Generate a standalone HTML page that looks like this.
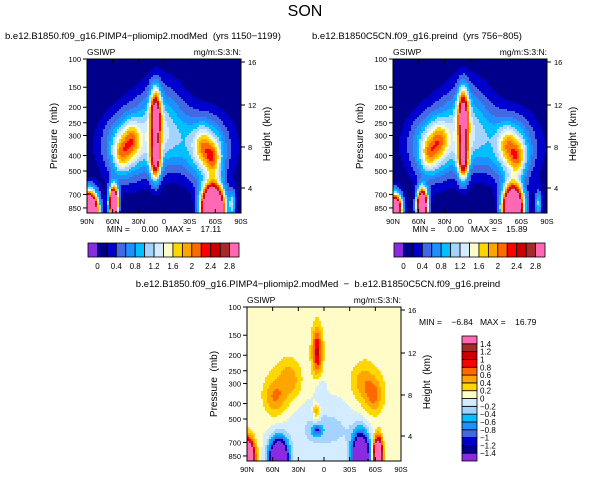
<!DOCTYPE html>
<html><head><meta charset="utf-8"><style>
body{margin:0;background:#fff;width:611px;height:481px;overflow:hidden}
svg{display:block;font-family:"Liberation Sans",sans-serif}
text{white-space:pre}
</style></head><body>
<svg id="s" width="611" height="481">
<text x="305" y="16" font-size="16" text-anchor="middle">SON</text>
</svg>
<script>
const pal=['#8a2be2','#00008b','#0000cd','#4169e1','#1e90ff','#00bfff','#a4d3ff','#d4ecff','#fffcc8','#ffd700','#ffa500','#ff6a00','#ff0000','#cd0000','#a52a2a','#ff69b4'];
const levelsAbs=[0,0.2,0.4,0.6,0.8,1.0,1.2,1.4,1.6,1.8,2.0,2.2,2.4,2.6,2.8];
const levelsDiff=[-1.4,-1.2,-1.0,-0.8,-0.6,-0.4,-0.2,0,0.2,0.4,0.6,0.8,1.0,1.2,1.4];
const latTicks=['90N','60N','30N','0','30S','60S','90S'];
const pTicks=[100,150,200,250,300,400,500,700,850];
const zTicks=[4,8,12,16];
// blobs: [lat, pressure, latSigma, lnpSigma, amplitude]
const blobsLeft=[[10,220,6,0.35,2.5],[10,420,6,0.3,2.5],[5,250,30,0.6,0.9],[0,330,70,0.45,0.45],[50,390,9,0.25,0.9],[38,320,9,0.25,0.8],[45,360,25,0.5,0.9],[-57,420,9,0.25,1.1],[-45,350,9,0.25,0.7],[-50,380,25,0.5,1.0],[88,880,10,0.25,6],[59,790,5,0.22,5],[-57,860,12,0.3,7],[-80,800,4,0.2,1.0]];
const blobsRight=[[8,220,6,0.35,2.5],[8,420,6,0.3,2.4],[5,250,30,0.6,0.9],[0,330,70,0.45,0.45],[48,390,9,0.25,0.85],[36,320,9,0.25,0.75],[45,360,25,0.5,0.9],[-55,410,9,0.25,1.0],[-43,340,9,0.25,0.7],[-50,380,25,0.5,1.0],[88,880,8,0.22,5],[56,820,6,0.22,5],[-50,860,11,0.3,6],[-80,800,4,0.2,1.0]];
const blobsDiff=[[0,400,500,50,0.06],[8,190,6,0.35,1.0],[9,450,4,0.12,0.6],[58,370,12,0.25,0.45],[40,280,12,0.25,0.35],[48,320,22,0.45,0.2],[-58,360,10,0.25,0.45],[-45,290,12,0.25,0.3],[-52,330,22,0.45,0.2],[0,580,50,0.4,-0.33],[5,320,6,0.2,-0.25],[8,590,6,0.08,-0.8],[90,880,8,0.25,3.5],[53,880,10,0.25,-3.5],[-43,860,9,0.3,-3.5],[-63,860,5,0.25,3.2]];
const svg=document.getElementById('s');const NS='http://www.w3.org/2000/svg';
function el(t,a,p){const e=document.createElementNS(NS,t);for(const k in a)e.setAttribute(k,a[k]);(p||svg).appendChild(e);return e;}
function txt(x,y,s,fs,anc,p){const e=el('text',{x:x,y:y,'font-size':fs,'text-anchor':anc||'start'},p);e.textContent=s;return e;}
const PB=914;
function field(b,lat,p){let v=0;const lp=Math.log(p);for(const q of b){const dl=(lat-q[0])/q[2],dp=(lp-Math.log(q[1]))/q[3];v+=q[4]*Math.exp(-dl*dl-dp*dp);}return v;}
function colorIdx(v,lv){let i=0;while(i<lv.length&&v>=lv[i])i++;return i;}
function panel(name,x0,y0,blobs,lv,sub,subx,anc){
  const W=154,H=154;const g=el('g',{},svg);
  
  const ys=p=>y0+Math.log(p/100)/Math.log(PB/100)*H;
  const c=2;
  for(let j=0;j<H;j+=c){const p=100*Math.exp((j+c/2)/H*Math.log(PB/100));
    let run=-1,start=0;
    for(let i=0;i<=W;i+=c){let k=-2;if(i<W){const lat=90-(i+c/2)/W*180;k=colorIdx(field(blobs,lat,p),lv);}
      if(k!==run){if(run>=0)el('rect',{x:x0+start,y:y0+j,width:i-start,height:c,fill:pal[run]},g);run=k;start=i;}}
  }
  el('rect',{x:x0,y:y0,width:W,height:H,fill:'none',stroke:'#000','stroke-width':1},g);
  latTicks.forEach((t,i)=>{const x=x0+i*W/6;el('line',{x1:x,x2:x,y1:y0+H,y2:y0+H-4,stroke:'#000'},g);el('line',{x1:x,x2:x,y1:y0,y2:y0+4,stroke:'#000'},g);
    const e=txt(x,y0+H+11,t,7.5,'middle',g);});
  pTicks.forEach(p=>{const y=ys(p);el('line',{x1:x0,x2:x0-4,y1:y,y2:y,stroke:'#000'},g);
    const e=txt(x0-6,y+3,String(p),7.5,'end',g);});
  const zy={16:y0+3,12:y0+46,8:y0+88,4:y0+129};
  zTicks.forEach(z=>{const y=zy[z];el('line',{x1:x0+W,x2:x0+W+4,y1:y,y2:y,stroke:'#000'},g);
    const e=txt(x0+W+7,y+3,String(z),7.5,'start',g);});
  let e=txt(0,0,'Pressure  (mb)',10,'middle',g);e.setAttribute('transform',`translate(${x0-30},${y0+H/2}) rotate(-90)`);
  
  e=txt(0,0,'Height  (km)',10,'middle',g);e.setAttribute('transform',`translate(${x0+W+29},${y0+H/2-2}) rotate(-90)`);
  
  e=txt(x0,y0-4,'GSIWP',8.5,'start',g);
  e=txt(x0+W,y0-4,'mg/m:S:3:N:',8.5,'end',g);
  e=txt(subx,y0-20,sub,9.5,anc,g);
}
panel('panel-pimp4',87,59,blobsLeft,levelsAbs,'b.e12.B1850.f09_g16.PIMP4\u2212pliomip2.modMed  (yrs 1150\u22121199)',5,'start');
panel('panel-preind',393,59,blobsRight,levelsAbs,'b.e12.B1850C5CN.f09_g16.preind  (yrs 756\u2212805)',312,'start');
panel('panel-difference',247,307,blobsDiff,levelsDiff,'b.e12.B1850.f09_g16.PIMP4\u2212pliomip2.modMed  \u2212  b.e12.B1850C5CN.f09_g16.preind',318,'middle');
let t=txt(164,232,'MIN =     0.00   MAX =    17.11',8.5,'middle');
t=txt(470,232,'MIN =     0.00   MAX =    15.89',8.5,'middle');
t=txt(419,325,'MIN =    \u22126.84   MAX =    16.79',8.5,'start');
function hbar(x0,y0,w,h){const g=el('g',{},svg);
  const bw=w/16;pal.forEach((c,i)=>el('rect',{x:x0+i*bw,y:y0,width:bw,height:h,fill:c,stroke:'#000','stroke-width':0.8},g));
  levelsAbs.forEach((v,i)=>{if(i%2===0){const e=txt(x0+(i+1)*bw,y0+h+12,String(Math.round(v*10)/10),8,'middle',g);}});}
hbar(88,243,151,14);hbar(394,243,151,14);
(function(){const x0=462,y0=336,w=15,h=125;const g=el('g',{},svg);
  const bh=h/16;pal.forEach((c,i)=>el('rect',{x:x0,y:y0+h-(i+1)*bh,width:w,height:bh,fill:c,stroke:'#000','stroke-width':0.8},g));
  levelsDiff.forEach((v,i)=>{const s=(Math.round(v*10)/10).toString().replace('-','\u2212');const e=txt(x0+w+3,y0+h-(i+1)*bh+3,s,8,'start',g);});})();
</script>
</body></html>
